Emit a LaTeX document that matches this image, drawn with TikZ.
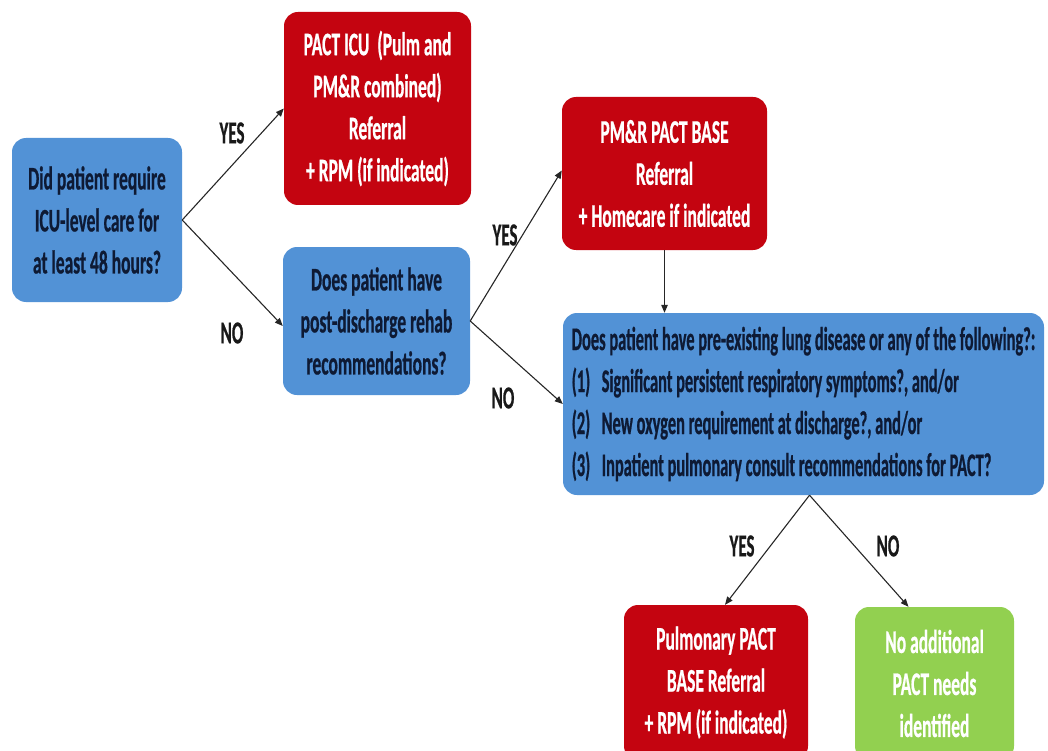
\documentclass[tikz,border=0pt]{standalone}
\usepackage{fontspec}
\setmainfont{Carlito}[FakeStretch=0.53, BoldFeatures={FakeBold=0.6}]
\newfontfamily\condfont{Carlito}[FakeStretch=0.497, BoldFeatures={FakeBold=0.6}]
\usetikzlibrary{arrows.meta}
\definecolor{boxblue}{RGB}{82,146,214}
\definecolor{boxred}{RGB}{196,4,16}
\definecolor{boxgreen}{RGB}{146,208,80}
\definecolor{navy}{RGB}{14,26,52}
\begin{document}
\begin{tikzpicture}[x=1pt,y=-1pt,
  box/.style={rounded corners=14pt, inner sep=0pt, align=center,
    font=\bfseries\fontsize{33}{42}\selectfont},
  bluebox/.style={box, fill=boxblue, text=navy},
  redbox/.style={box, fill=boxred, text=white},
  greenbox/.style={box, fill=boxgreen, text=white},
  arr/.style={-{Triangle[length=8pt,width=6.5pt]}, line width=1.1pt, draw=black!85},
  lab/.style={font=\bfseries\fontsize{32}{32}\selectfont, text=black!90, inner sep=0pt}
]
\path[use as bounding box] (0,0) rectangle (1048,751);
\clip (0,0) rectangle (1048,751);

\node[bluebox, minimum width=170pt, minimum height=164pt] (A) at (97,220)
  {Did patient require\\ICU-level care for\\at least 48 hours?};
\node[redbox, minimum width=187pt, minimum height=193pt] (B) at (377.5,108.5)
  {PACT ICU \ (Pulm and\\PM\&R combined)\\Referral\\+ RPM (if indicated)};
\node[bluebox, minimum width=187pt, minimum height=148pt] (C) at (376.5,321)
  {Does patient have\\post-discharge rehab\\recommendations?};
\node[redbox, minimum width=205pt, minimum height=153pt] (D) at (664.5,173.5)
  {PM\&R PACT BASE\\Referral\\+ Homecare if indicated};
\node[bluebox, minimum width=481pt, minimum height=182pt, align=left] (E) at (803.5,404)
  {\condfont\bfseries Does patient have pre-existing lung disease or any of the following?:\\
   \condfont\bfseries\makebox[30pt][l]{(1)}Significant persistent respiratory symptoms?, and/or\\
   \condfont\bfseries\makebox[30pt][l]{(2)}New oxygen requirement at discharge?, and/or\\
   \condfont\bfseries\makebox[30pt][l]{(3)}Inpatient pulmonary consult recommendations for PACT?};
\node[redbox, minimum width=184pt, minimum height=155pt] (F) at (716,682.5)
  {Pulmonary PACT\\BASE Referral\\+ RPM (if indicated)};
\node[greenbox, minimum width=159pt, minimum height=153pt] (G) at (934.5,683.5)
  {No additional\\PACT needs\\identified};

\draw[arr] (A.east) -- (B.west);
\draw[arr] (A.east) -- ([yshift=-5pt]C.west);
\draw[arr] (C.east) -- ([yshift=3pt]D.west);
\draw[arr] (C.east) -- (E.west);
\draw[arr] (D.south) -- (D.south |- E.north);
\coordinate (Eb) at ([xshift=6pt]E.south);
\draw[arr] (Eb) -- ([xshift=9pt]F.north);
\draw[arr] (Eb) -- ([xshift=-26pt]G.north);

\node[lab] (y1) at (232,133) {YES};
\node[lab] (n1) at (232,333) {NO};
\node[lab] (y2) at (505,235) {YES};
\node[lab] (n2) at (503,398) {NO};
\node[lab] (y3) at (742,546) {YES};
\node[lab] (n3) at (888,546) {NO};
\end{tikzpicture}
\end{document}
